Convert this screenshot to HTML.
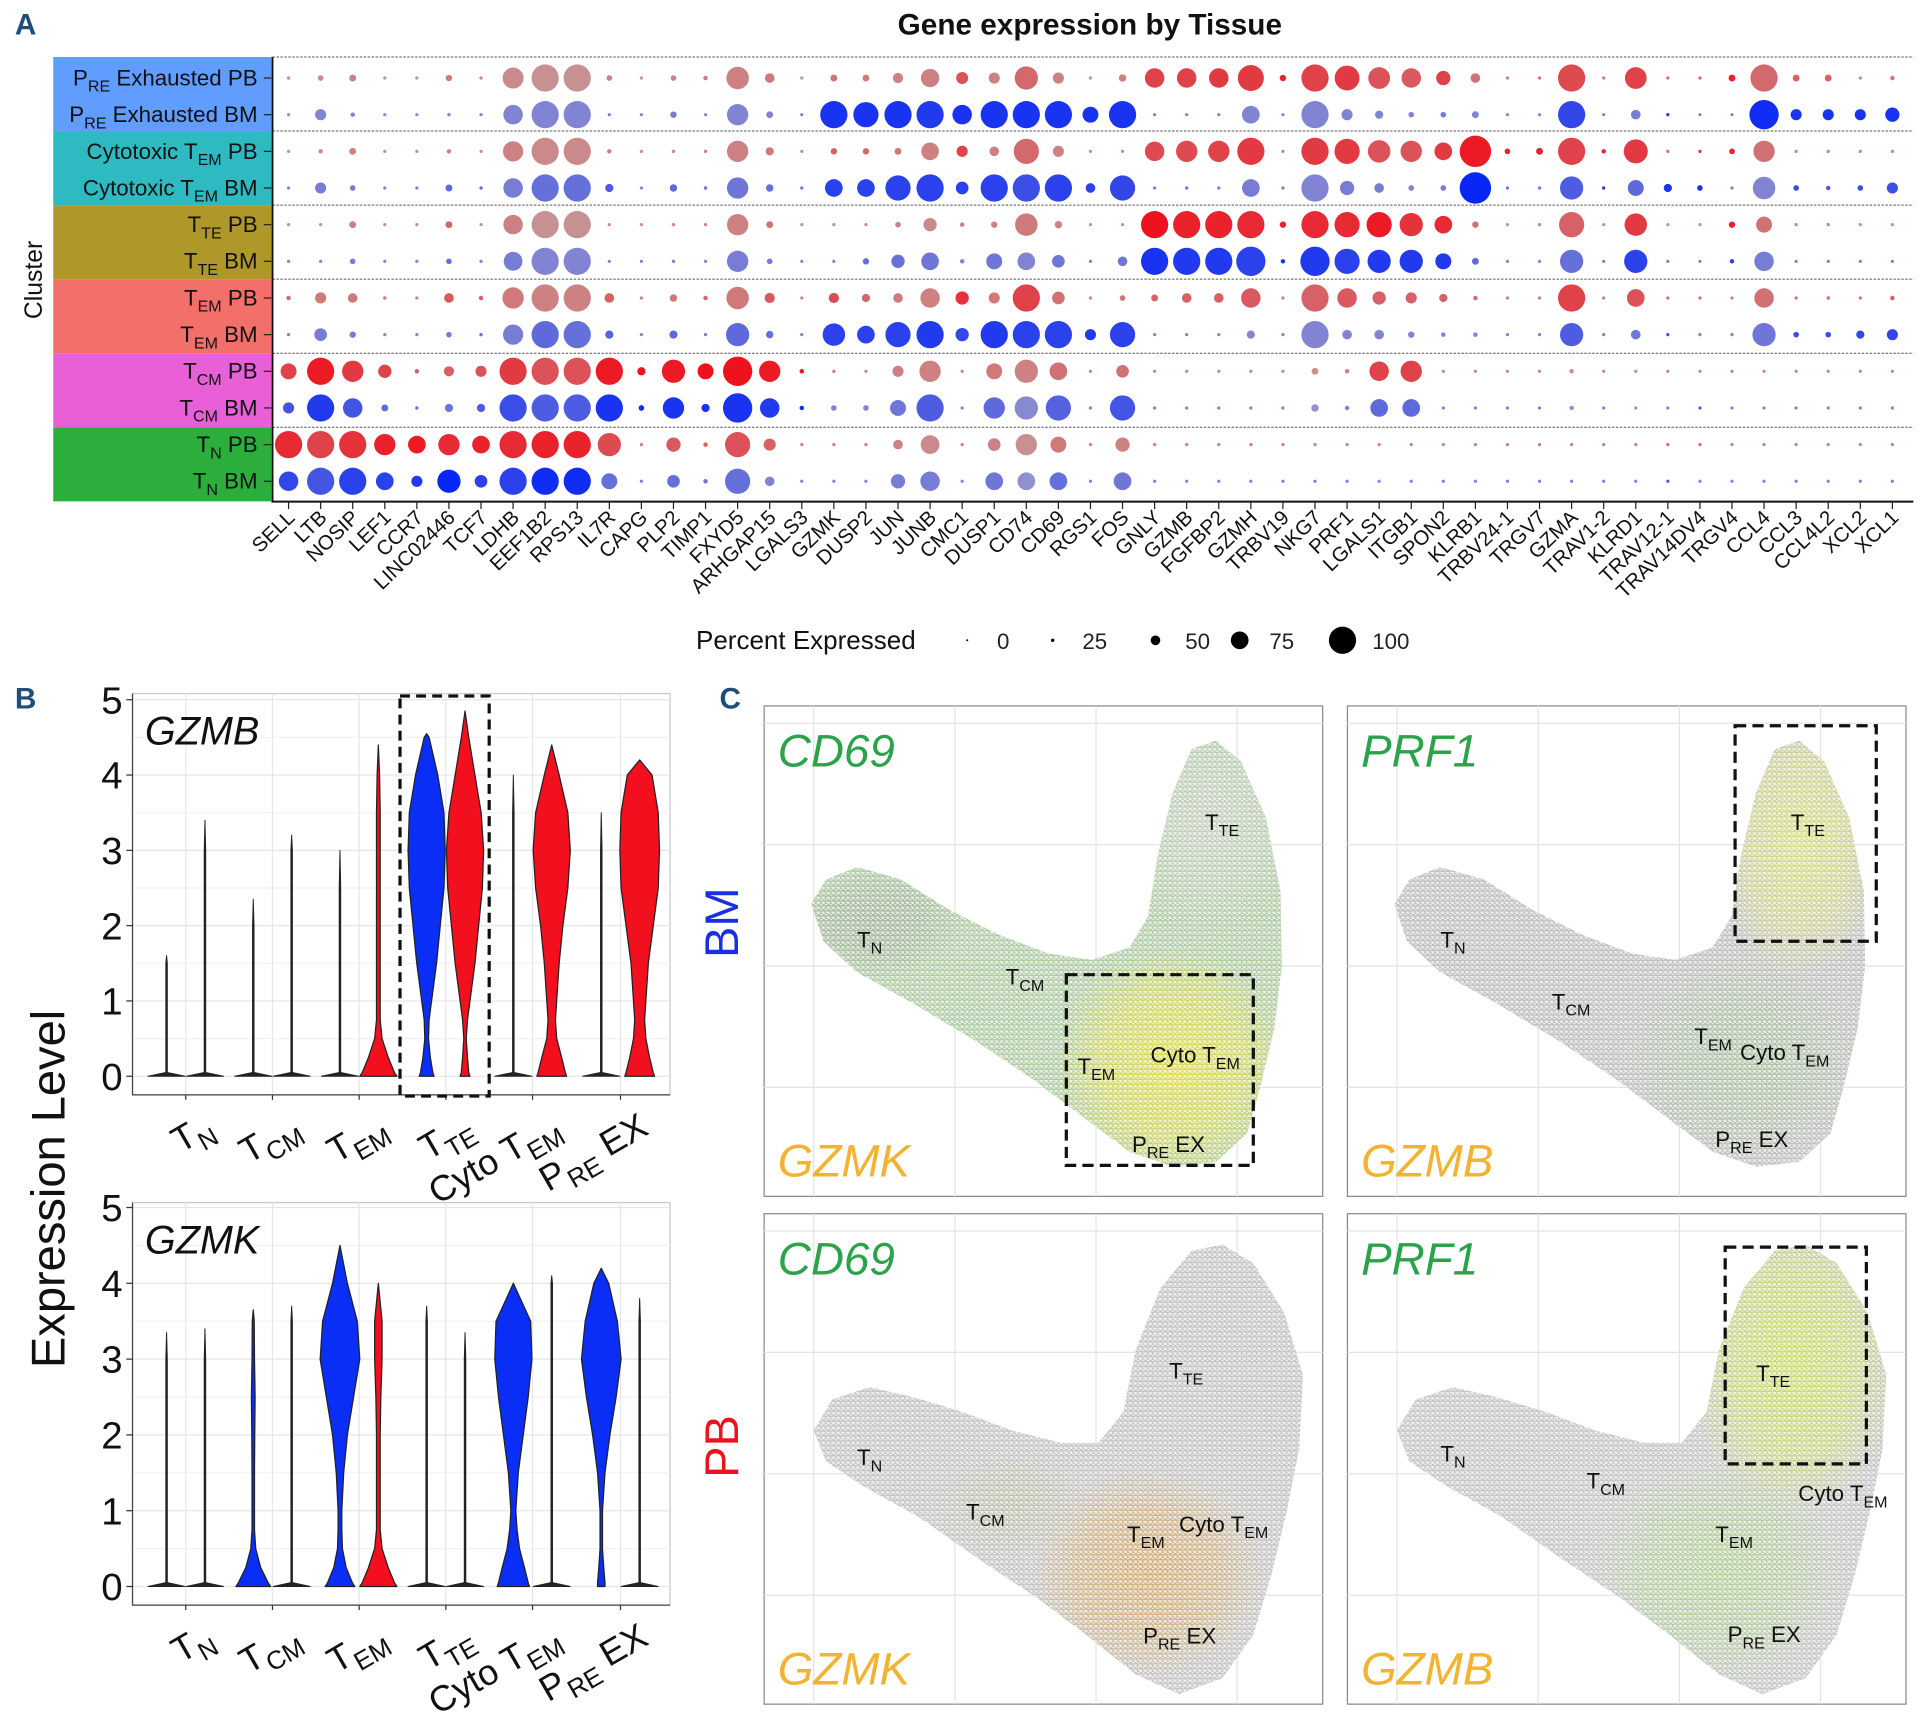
<!DOCTYPE html>
<html><head><meta charset="utf-8"><title>Gene expression figure</title>
<style>
html,body{margin:0;padding:0;background:#fff;}
svg{display:block;}
text{font-family:"Liberation Sans","DejaVu Sans",sans-serif;}
</style></head>
<body>
<svg id="fig" xmlns="http://www.w3.org/2000/svg" width="1932" height="1721" viewBox="0 0 1560 1389.6" preserveAspectRatio="none">
<defs id="defs">
  <pattern id="speckle" width="4" height="4" patternUnits="userSpaceOnUse">
    <rect x="0" y="0" width="2" height="2" fill="#fff"/>
    <rect x="2" y="2" width="2" height="1" fill="#fff"/>
    <rect x="3" y="0" width="1" height="1" fill="#fff"/>
  </pattern>
</defs>
<rect x="0" y="0" width="1560" height="1389.6" fill="#fff"/>
<text x="12" y="28" font-size="24" font-weight="bold" fill="#1f4e79">A</text>
<text x="12" y="572" font-size="24" font-weight="bold" fill="#1f4e79">B</text>
<text x="581" y="572" font-size="24" font-weight="bold" fill="#1f4e79">C</text>
<text x="880" y="28" font-size="24" font-weight="bold" text-anchor="middle" fill="#111">Gene expression by Tissue</text>
<text transform="translate(34,226) rotate(-90)" font-size="20" text-anchor="middle" fill="#111">Cluster</text>
<text transform="translate(52,960) rotate(-90)" font-size="38" text-anchor="middle" fill="#111">Expression Level</text>
<text transform="translate(596,745) rotate(-90)" font-size="38" text-anchor="middle" fill="#1a2fe0">BM</text>
<text transform="translate(596,1168) rotate(-90)" font-size="38" text-anchor="middle" fill="#e8141e">PB</text>
<g id="gA"></g><g id="gB"></g><g id="gC"></g>
</svg>
<script>
// ---------------- Panel A data ----------------
const genes = ["SELL","LTB","NOSIP","LEF1","CCR7","LINC02446","TCF7","LDHB","EEF1B2","RPS13","IL7R","CAPG","PLP2","TIMP1","FXYD5","ARHGAP15","LGALS3","GZMK","DUSP2","JUN","JUNB","CMC1","DUSP1","CD74","CD69","RGS1","FOS","GNLY","GZMB","FGFBP2","GZMH","TRBV19","NKG7","PRF1","LGALS1","ITGB1","SPON2","KLRB1","TRBV24-1","TRGV7","GZMA","TRAV1-2","KLRD1","TRAV12-1","TRAV14DV4","TRGV4","CCL4","CCL3","CCL4L2","XCL2","XCL1"];
const clusterRows = [["P","RE"," Exhausted PB"],["P","RE"," Exhausted BM"],["Cytotoxic T","EM"," PB"],["Cytotoxic T","EM"," BM"],["T","TE"," PB"],["T","TE"," BM"],["T","EM"," PB"],["T","EM"," BM"],["T","CM"," PB"],["T","CM"," BM"],["T","N"," PB"],["T","N"," BM"]];
const groupColors = ["#619CFF","#2DBAC0","#B0972A","#F3706A","#E85FD8","#2CAE3C"];
const legendValues = [0,25,50,75,100];
const pctRows = [
[25,35,40,18,15,38,20,84,100,100,35,15,35,30,88,50,18,40,40,52,77,58,55,90,55,15,42,80,80,80,97,38,100,94,86,80,65,50,15,20,100,15,86,15,18,40,100,40,40,18,30],
[15,55,30,12,10,25,15,80,100,100,20,12,38,15,85,40,15,100,95,100,100,80,100,100,100,70,100,12,12,12,75,12,100,55,45,35,35,40,8,15,100,12,50,25,12,8,105,55,55,55,65],
[12,30,40,12,8,30,15,82,100,100,30,8,25,25,85,45,15,38,38,40,75,55,50,95,55,8,20,80,85,85,100,12,100,95,88,85,75,110,35,40,100,30,92,20,20,35,85,15,15,12,15],
[12,55,35,15,10,40,20,80,100,100,45,15,42,25,85,42,18,75,75,95,100,60,100,100,100,50,95,20,25,22,75,10,100,65,50,35,35,110,18,20,90,25,70,45,35,15,88,35,30,35,55],
[10,18,40,10,8,40,12,80,100,100,12,8,25,22,85,40,15,10,20,35,62,30,38,88,42,8,20,100,100,100,100,38,100,95,95,90,75,38,10,20,95,10,88,10,12,38,70,15,15,10,12],
[10,15,35,12,8,35,12,78,100,100,15,10,25,20,85,35,12,15,38,62,75,30,70,75,60,12,50,100,100,100,105,30,105,95,90,90,70,40,10,12,90,10,90,8,10,30,80,12,12,10,12],
[30,55,50,25,15,50,30,85,100,100,50,12,42,30,88,52,15,52,45,50,80,62,55,100,60,12,35,40,50,50,80,12,100,80,62,55,45,30,10,15,100,15,75,15,20,15,80,20,25,18,30],
[12,60,38,15,10,35,25,82,100,100,45,12,45,20,90,42,15,88,75,95,100,62,100,100,100,55,95,12,12,12,45,12,100,50,50,38,30,30,8,12,90,15,50,20,15,12,90,35,35,45,55],
[70,100,85,62,30,52,55,100,100,100,100,45,90,70,105,85,30,25,20,55,85,20,70,90,75,12,60,20,12,10,12,12,40,30,80,85,12,15,10,8,30,15,25,15,15,8,12,8,8,8,12],
[55,100,80,40,25,45,45,100,100,100,100,35,85,45,105,80,30,35,35,70,100,20,85,90,95,20,95,20,12,10,10,12,42,30,75,75,15,15,10,8,30,15,20,15,20,8,15,8,8,10,15],
[100,100,100,85,75,85,75,100,100,100,90,12,65,30,95,58,10,10,12,50,78,15,60,85,70,8,65,15,15,15,15,15,25,20,20,15,15,15,15,15,12,15,10,20,20,12,12,12,12,12,12],
[80,100,100,75,55,90,60,100,100,100,70,10,60,30,95,50,8,10,15,65,80,12,75,75,75,10,75,12,12,12,12,15,20,20,20,15,12,12,12,12,12,15,10,15,15,10,12,10,10,10,10]
];
const exprRows = [
[.25,.25,.3,.2,.2,.35,.25,.25,.2,.2,.3,.2,.3,.35,.3,.35,.2,.4,.35,.3,.3,.6,.3,.45,.3,.2,.3,.7,.7,.75,.75,.9,.7,.75,.6,.55,.7,.4,.3,.4,.65,.3,.7,.4,.45,.9,.45,.5,.5,.3,.35],
[.25,.3,.3,.25,.25,.3,.3,.3,.3,.3,.35,.3,.35,.3,.3,.3,.3,.9,.9,.9,.85,.9,.9,.9,.9,.9,.9,.3,.3,.3,.3,.3,.3,.3,.3,.3,.35,.3,.3,.3,.75,.3,.35,.8,.3,.3,.95,.9,.9,.9,.9],
[.2,.25,.3,.2,.2,.3,.25,.3,.25,.25,.3,.2,.25,.3,.3,.35,.2,.5,.45,.35,.3,.7,.3,.45,.3,.2,.25,.65,.65,.7,.75,.3,.75,.75,.6,.6,.75,.95,.9,.9,.7,.9,.75,.4,.8,.9,.4,.3,.3,.3,.3],
[.3,.35,.35,.3,.3,.5,.5,.35,.45,.45,.6,.3,.5,.4,.4,.45,.4,.8,.8,.8,.8,.8,.8,.7,.8,.8,.75,.35,.35,.35,.35,.3,.3,.35,.35,.3,.35,1,.4,.4,.6,.8,.5,.9,.9,.3,.3,.7,.6,.7,.7],
[.2,.2,.3,.2,.2,.45,.2,.3,.2,.2,.2,.2,.25,.3,.3,.4,.2,.2,.25,.3,.25,.3,.3,.35,.3,.2,.2,1,.9,.9,.85,.9,.85,.85,.95,.8,.85,.4,.2,.3,.5,.2,.75,.2,.2,.9,.4,.3,.3,.2,.2],
[.3,.3,.35,.3,.3,.45,.3,.35,.3,.3,.3,.3,.3,.3,.35,.35,.3,.3,.45,.45,.4,.3,.4,.3,.4,.3,.4,.9,.85,.85,.8,.9,.85,.8,.85,.85,.85,.5,.3,.3,.45,.3,.8,.3,.3,.8,.35,.3,.3,.3,.3],
[.4,.35,.35,.35,.3,.55,.5,.35,.3,.3,.5,.3,.35,.45,.35,.55,.3,.65,.45,.35,.3,.8,.35,.7,.4,.3,.35,.5,.5,.5,.55,.3,.5,.55,.5,.5,.5,.4,.3,.3,.7,.3,.6,.4,.4,.3,.4,.4,.4,.4,.5],
[.3,.35,.35,.3,.3,.35,.4,.35,.5,.45,.55,.3,.5,.35,.5,.45,.3,.8,.8,.8,.85,.75,.85,.8,.8,.85,.8,.3,.3,.3,.3,.3,.3,.3,.3,.3,.3,.3,.3,.3,.6,.3,.4,.7,.3,.3,.4,.7,.7,.75,.75],
[.7,.95,.75,.7,.5,.5,.6,.75,.6,.6,.95,1,.95,1,1,.95,1,.3,.3,.3,.3,.3,.35,.3,.4,.3,.4,.3,.3,.3,.3,.3,.15,.3,.7,.7,.3,.3,.3,.3,.1,.3,.2,.3,.3,.3,.3,.3,.3,.3,.3],
[.65,.85,.65,.5,.4,.4,.6,.7,.6,.6,.9,.95,.9,.9,.9,.85,.95,.3,.3,.4,.6,.3,.5,.25,.55,.3,.65,.3,.3,.3,.3,.3,.1,.3,.5,.5,.3,.3,.3,.3,.1,.3,.2,.3,.6,.3,.3,.3,.3,.3,.3],
[.85,.7,.8,.9,.95,.85,.9,.85,.9,.9,.65,.3,.55,.5,.6,.5,.3,.3,.3,.3,.25,.3,.3,.1,.35,.3,.3,.3,.3,.3,.3,.3,.15,.3,.3,.3,.3,.3,.3,.3,.3,.3,.3,.4,.4,.3,.3,.3,.3,.3,.3],
[.75,.65,.8,.8,.85,1,.8,.8,.95,.95,.45,.3,.45,.4,.45,.3,.3,.3,.3,.35,.35,.3,.4,.1,.45,.3,.4,.3,.3,.3,.3,.3,.3,.3,.3,.3,.3,.3,.3,.3,.3,.3,.3,.6,.3,.3,.3,.3,.3,.3,.3]
];

// ---------------- Panel B data ----------------
const violinGroups = [["T","N"],["T","CM"],["T","EM"],["T","TE"],["Cyto T","EM"],["P","RE"," EX"]];
const yTicks = [0,1,2,3,4,5];
const densLevels = [0,0.05,0.25,0.5,0.75,1,1.5,2,2.5,3,3.5,4,4.5,5];
const LINE = [15,0.6,0.6,0.6,0.6,0.6,0.6,0.6,0.6,0.6,0.6,0.6,0.6,0.6];
const gzmbMax = [1.6,3.4, 2.35,3.2, 3.0,4.4, 4.55,4.85, 4.0,4.4, 3.5,4.2];
const gzmbWidths = [LINE,LINE, LINE,LINE, LINE,[15,13,8,3,1.5,1.5,1.5,1.5,1.5,1.5,1.5,1,0.5,0],
  [6,5,3,1.5,2,4,8,11,14,15,14,9,2,0],[4,3,2,1,2,4,8,11,14,15,13,8,3,0],
  LINE,[12,11,8,4,3,4,6,9,13,15,13,6,1,0], LINE,[12,11,8,5,4,5,7,11,15,16,15,10,2,0]];
const gzmkMax = [3.35,3.4, 3.65,3.7, 4.5,4.0, 3.7,3.35, 4.0,4.1, 4.2,3.8];
const gzmkWidths = [LINE,LINE, [14,12,6,2,1,1,1,1.2,1.5,1,0.8,0.5,0,0],LINE,
  [12,10,5,2,1.5,1.5,3,6,11,16,14,6,1,0],[15,13,8,3,1.5,1.5,1.5,1.5,2,3,3,1,0,0],
  LINE,LINE, [13,12,9,5,3,2,4,8,12,15,14,8,0,0],LINE, [3,3,2,1,1,1,3,7,12,16,13,6,0,0],LINE];

const NS = "http://www.w3.org/2000/svg";
function mk(tag, attrs, parent){const e=document.createElementNS(NS,tag);for(const k in attrs)e.setAttribute(k,attrs[k]);if(parent)parent.appendChild(e);return e;}
function subText(parent, parts, x, y, size, attrs){
  const t = mk("text", Object.assign({x:x,y:y,"font-size":size},attrs||{}), parent);
  const a = mk("tspan",{},t); a.textContent = parts[0];
  if(parts.length>1){const b = mk("tspan",{dy:size*0.28,"font-size":size*0.72},t); b.textContent=parts[1];}
  if(parts.length>2){const c = mk("tspan",{dy:-size*0.28},t); c.textContent=parts[2];}
  return t;
}

// ---------------- Draw Panel A ----------------
(function(){
  const g = document.getElementById("gA");
  const x0=220, x1=1545, yTop=46, yBot=405, firstX=233, stepX=25.9, rowY0=63, rowStep=29.6;
  const xs = i => firstX + i*stepX;
  const ys = r => rowY0 + r*rowStep;
  const rad = p => Math.max(1.3, 11*Math.pow(p/100,1.5));
  function col(isPB,e){
    const lo = isPB?[200,145,145]:[145,145,205], hi = isPB?[238,18,30]:[8,38,245];
    const c = lo.map((v,k)=>Math.round(v+(hi[k]-v)*Math.min(1,Math.max(0,(e-0.2)/0.8))));
    return "rgb("+c.join(",")+")";
  }
  groupColors.forEach((c,gi)=>{
    const r = mk("rect",{x:43,y:yTop+gi*59.8,width:176,height:59.8,fill:c},g);
    
    
    if(gi>0){
      const l = mk("line",{x1:x0,x2:x1,y1:yTop+gi*59.8,y2:yTop+gi*59.8,stroke:"#555","stroke-width":0.8,"stroke-dasharray":"2,1.2"},g);
      
      
    }
  });
  const topL = mk("line",{x1:x0,x2:x1,y1:yTop,y2:yTop,stroke:"#555","stroke-width":0.8,"stroke-dasharray":"2,1.2"},g);
  
  
  clusterRows.forEach((parts,ri)=>{
    const t = subText(g, parts, 208, ys(ri)+6, 18, {"text-anchor":"end",fill:"#111"});
    
    
    const tk = mk("line",{x1:213,x2:219,y1:ys(ri),y2:ys(ri),stroke:"#222","stroke-width":1},g);
    
    
  });
  const ax = mk("path",{d:`M${x0},${yTop} V${yBot} H${x1}`,fill:"none",stroke:"#111","stroke-width":1.6},g);
  
  
  genes.forEach((gn,i)=>{
    const tk = mk("line",{x1:xs(i),x2:xs(i),y1:yBot,y2:yBot+6,stroke:"#222","stroke-width":1},g);
    
    
    const t = mk("text",{x:xs(i)+6,y:yBot+14,"font-size":16.5,"text-anchor":"end",fill:"#111",transform:`rotate(-44 ${xs(i)+6} ${yBot+14})`},g);
    t.textContent = gn;
    
    
  });
  pctRows.forEach((row,ri)=>{
    const isPB = ri%2===0;
    row.forEach((p,i)=>{
      const c = mk("circle",{cx:xs(i),cy:ys(ri),r:rad(p),fill:col(isPB,exprRows[ri][i])},g);
      
      
    });
  });
  const lt = mk("text",{x:562,y:524,"font-size":21,fill:"#111"},g);
  lt.textContent="Percent Expressed";
  
  
  const legX = [781,850,933,1001,1084];
  legendValues.forEach((v,k)=>{
    const c = mk("circle",{cx:legX[k],cy:517,r:v===0?0.8:rad(v),fill:"#000"},g);
    
    
    const t = mk("text",{x:legX[k]+24,y:524,"font-size":18,fill:"#222"},g);
    t.textContent = String(v);
    
    
  });
})();

// ---------------- Draw Panel B ----------------
(function(){
  const g = document.getElementById("gB");
  const centers = [150,220,290,360,430,501];
  function panel(top, bottom, y0, unit, title, maxes, widths, labY, dashed){
    const xL=107, xR=541;
    const y = v => y0 - v*unit;
    const fr = mk("rect",{x:xL,y:top,width:xR-xL,height:bottom-top,fill:"#fff",stroke:"#c8c8c8","stroke-width":1},g);
    
    
    for(let v=0; v<=5; v+=0.5){
      const gl = mk("line",{x1:xL,x2:xR,y1:y(v),y2:y(v),stroke:v%1===0?"#e6e6e6":"#f2f2f2","stroke-width":1},g);
      
      
    }
    centers.forEach(cx=>{
      const gl = mk("line",{x1:cx,x2:cx,y1:top,y2:bottom,stroke:"#e6e6e6","stroke-width":1},g);
      
      
      const tk = mk("line",{x1:cx,x2:cx,y1:bottom,y2:bottom+4,stroke:"#333","stroke-width":1},g);
      
      
    });
    const axl = mk("path",{d:`M${xL},${top} V${bottom} H${xR}`,fill:"none",stroke:"#444","stroke-width":1},g);
    
    
    yTicks.forEach(v=>{
      const t = mk("text",{x:99,y:y(v)+11,"font-size":31,"text-anchor":"end",fill:"#111","font-family":"DejaVu Sans, sans-serif"},g);
      t.textContent=String(v);
      
      
      const tk = mk("line",{x1:102,x2:xL,y1:y(v),y2:y(v),stroke:"#333","stroke-width":1},g);
      
      
    });
    const tt = mk("text",{x:117,y:top+41,"font-size":32,"font-style":"italic",fill:"#111","font-family":"DejaVu Sans, sans-serif"},g);
    tt.textContent=title;
    
    
    maxes.forEach((mx,k)=>{
      const cx = centers[Math.floor(k/2)] + (k%2===0?-15.5:15.5);
      const isPB = k%2===1;
      const pts=[];
      const lv=[], wd=[];
      for(let j=0;j<densLevels.length;j++){
        if(densLevels[j]<mx){lv.push(densLevels[j]);wd.push(widths[k][j]);}
      }
      lv.push(mx); wd.push(0);
      for(let j=0;j<lv.length;j++) pts.push([cx+wd[j],y(lv[j])]);
      for(let j=lv.length-1;j>=0;j--) pts.push([cx-wd[j],y(lv[j])]);
      const isLine = widths[k]===LINE;
      const p = mk("polygon",{points:pts.map(q=>q[0].toFixed(1)+","+q[1].toFixed(1)).join(" "),
        fill:isLine?"#222":(isPB?"#f20f1e":"#0a2ef5"),stroke:"#222","stroke-width":isLine?0.8:1,"stroke-linejoin":"round"},g);
      
      
    });
    violinGroups.forEach((parts,i)=>{
      const ex = centers[i]+24, ey = labY;
      const t = subText(g, parts, ex, ey, 29, {"text-anchor":"end",fill:"#111",transform:`rotate(-30 ${ex} ${ey})`,"font-family":"DejaVu Sans, sans-serif"});
      
      
    });
    if(dashed){
      const d = mk("rect",{x:323,y:top+2,width:72,height:bottom-top-1,fill:"none",stroke:"#111","stroke-width":2.6,"stroke-dasharray":"8,5"},g);
      
      
    }
  }
  panel(560,884,869,60.8,"GZMB",gzmbMax,gzmbWidths,915,true);
  panel(971,1296,1281,61.2,"GZMK",gzmkMax,gzmkWidths,1327,false);
})();

// ---------------- Draw Panel C (UMAP feature plots) ----------------
const shapeBM = [[38,160],[50,140],[75,130],[110,140],[150,165],[190,185],[230,200],[265,205],[295,195],[310,170],[318,120],[330,70],[345,35],[365,28],[385,45],[405,90],[417,150],[418,210],[412,260],[400,310],[390,345],[365,368],[330,372],[295,360],[255,330],[215,300],[170,270],[120,240],[75,215],[48,190]];
const shapePB = [[40,175],[55,150],[85,140],[120,148],[160,160],[200,175],[240,185],[270,185],[290,160],[300,110],[320,60],[345,30],[370,25],[395,40],[420,80],[435,130],[432,190],[422,240],[410,290],[395,340],[370,375],[335,388],[300,372],[260,340],[220,310],[175,280],[125,245],[80,220],[50,200]];
(function(){
  const g = document.getElementById("gC");
  const defs = document.getElementById("defs");
  const panels = [
    {x:617,y:570,shape:shapeBM,base:"#b0cca6",g1:"CD69",g2:"GZMK",
     blobs:[[330,290,95,95,"#e2dc48"],[360,95,70,85,"#c6cfbf"],[90,175,70,45,"#a3b49c"]],
     labels:[[["T","N"],75,195],[["T","CM"],195,225],[["T","EM"],253,297],[["Cyto T","EM"],312,288],[["P","RE"," EX"],297,360],[["T","TE"],356,100]],
     box:[244,217,151,154]},
    {x:1088,y:570,shape:shapeBM,base:"#c0c0c0",g1:"PRF1",g2:"GZMB",
     blobs:[[365,110,70,110,"#d8de82"],[320,285,95,85,"#adc2a3"]],
     labels:[[["T","N"],75,195],[["T","CM"],165,245],[["T","EM"],280,273],[["Cyto T","EM"],317,286],[["P","RE"," EX"],297,356],[["T","TE"],358,100]],
     box:[313,16,114,174]},
    {x:617,y:980,shape:shapePB,base:"#c5c5c5",g1:"CD69",g2:"GZMK",
     blobs:[[310,290,95,85,"#d4ad72"],[200,235,60,40,"#bcc2ab"]],
     labels:[[["T","N"],75,203],[["T","CM"],163,247],[["T","EM"],293,265],[["Cyto T","EM"],335,257],[["P","RE"," EX"],306,347],[["T","TE"],327,133]],
     box:null},
    {x:1088,y:980,shape:shapePB,base:"#c6c6c6",g1:"PRF1",g2:"GZMB",
     blobs:[[360,120,85,125,"#cadf66"],[300,290,100,90,"#b2cf98"]],
     labels:[[["T","N"],75,200],[["T","CM"],193,222],[["T","EM"],297,265],[["Cyto T","EM"],364,232],[["P","RE"," EX"],307,346],[["T","TE"],330,135]],
     box:[305,27,114,175]}
  ];
  panels.forEach((P,pi)=>{
    const W=451,H=396;
    const fr = mk("rect",{x:P.x,y:P.y,width:W,height:H,fill:"#fff",stroke:"#8a8a8a","stroke-width":1},g);
    
    
    [40,154,268,382].forEach(vx=>{
      const l = mk("line",{x1:P.x+vx,x2:P.x+vx,y1:P.y,y2:P.y+H,stroke:"#e4e4e4","stroke-width":1},g);
      
      
    });
    [14,112,210,308].forEach(hy=>{
      const l = mk("line",{x1:P.x,x2:P.x+W,y1:P.y+hy,y2:P.y+hy,stroke:"#e4e4e4","stroke-width":1},g);
      
      
    });
    const cp = mk("clipPath",{id:"clip"+pi},defs);
    mk("polygon",{points:P.shape.map(q=>(P.x+q[0])+","+(P.y+q[1])).join(" ")},cp);
    const cg = mk("g",{"clip-path":`url(#clip${pi})`},g);
    
    
    mk("rect",{x:P.x,y:P.y,width:W,height:H,fill:P.base},cg);
    P.blobs.forEach((b,bi)=>{
      const gid = "rg"+pi+"_"+bi;
      const rg = mk("radialGradient",{id:gid},defs);
      mk("stop",{offset:"0","stop-color":b[4],"stop-opacity":0.95},rg);
      mk("stop",{offset:"0.6","stop-color":b[4],"stop-opacity":0.6},rg);
      mk("stop",{offset:"1","stop-color":b[4],"stop-opacity":0},rg);
      mk("ellipse",{cx:P.x+b[0],cy:P.y+b[1],rx:b[2],ry:b[3],fill:`url(#${gid})`},cg);
    });
    mk("rect",{x:P.x,y:P.y,width:W,height:H,fill:"url(#speckle)",opacity:0.72},cg);
    const t1 = mk("text",{x:P.x+11,y:P.y+49,"font-size":37,"font-style":"italic",fill:"#2ca24a"},g);
    t1.textContent = P.g1;
    
    
    const t2 = mk("text",{x:P.x+11,y:P.y+380,"font-size":37,"font-style":"italic",fill:"#f3b22f"},g);
    t2.textContent = P.g2;
    
    
    P.labels.forEach(L=>{
      const t = subText(g, L[0], P.x+L[1], P.y+L[2], 18, {fill:"#111"});
      
      
    });
    if(P.box){
      const d = mk("rect",{x:P.x+P.box[0],y:P.y+P.box[1],width:P.box[2],height:P.box[3],fill:"none",stroke:"#111","stroke-width":2.6,"stroke-dasharray":"9,5"},g);
      
      
    }
  });
})();
</script>
</body></html>
